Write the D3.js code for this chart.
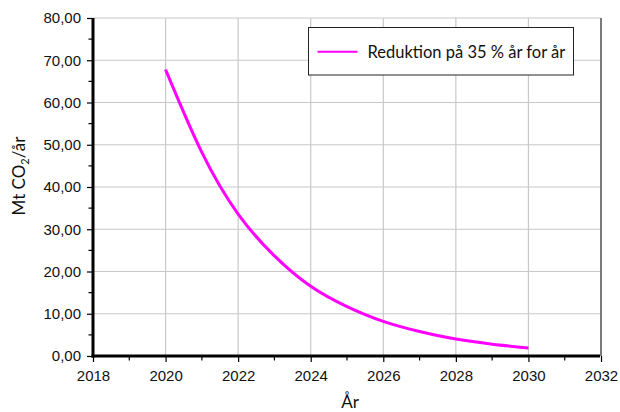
<!DOCTYPE html>
<html>
<head>
<meta charset="utf-8">
<script src="https://cdn.jsdelivr.net/npm/d3@7"></script>
<style>
	body { margin: 0; background: #fff; }
	svg text { fill: #111; }
</style>
</head>
<body>
<div id="chart"></div>
<script>
	var years = [2020, 2021, 2022, 2023, 2024, 2025, 2026, 2027, 2028, 2029, 2030];
	var emissions = [67.8, 48.2, 33.6, 23.7, 16.5, 11.7, 8.2, 5.8, 4.0, 2.8, 1.9];
	var seriesName = "Reduktion på 35 % år for år";
	var xTicks = [2018, 2020, 2022, 2024, 2026, 2028, 2030, 2032];
	var yTicks = [0, 10, 20, 30, 40, 50, 60, 70, 80];

	var W = 620, H = 412;
	var margin = {top: 18, right: 19, left: 93, bottom: 56},
			width = W - margin.left - margin.right,
			height = H - margin.top - margin.bottom;

	var x = d3.scaleLinear().domain([2018, 2032]).range([0, width]);
	var y = d3.scaleLinear().domain([0, 80]).range([height, 0]);

	var svg = d3.select("#chart").append("svg")
			.attr("width", W)
			.attr("height", H)
		.append("g")
			.attr("transform", "translate(" + margin.left + "," + margin.top + ")");

	// grid
	svg.append("g").selectAll("line.gx")
		.data(xTicks.slice(1))
		.enter().append("line")
			.attr("x1", function(d) { return x(d); })
			.attr("x2", function(d) { return x(d); })
			.attr("y1", 0).attr("y2", height)
			.attr("stroke", "#c8c8c8").attr("stroke-width", 1.2);

	svg.append("g").selectAll("line.gy")
		.data(yTicks.slice(1))
		.enter().append("line")
			.attr("x1", 0).attr("x2", width)
			.attr("y1", function(d) { return y(d); })
			.attr("y2", function(d) { return y(d); })
			.attr("stroke", "#c8c8c8").attr("stroke-width", 1.2);

	// right border
	svg.append("line")
		.attr("x1", width).attr("x2", width)
		.attr("y1", 0).attr("y2", height)
		.attr("stroke", "#7a7a7a").attr("stroke-width", 2);

	var tickFont = "'Liberation Sans', Arial, sans-serif";

	// minor ticks
	var minorX = d3.range(2019, 2032, 2);
	svg.append("g").selectAll("line")
		.data(minorX)
		.enter().append("line")
			.attr("x1", function(d) { return x(d); })
			.attr("x2", function(d) { return x(d); })
			.attr("y1", height).attr("y2", height + 4.5)
			.attr("stroke", "#000").attr("stroke-width", 1.2);

	var minorY = d3.range(5, 80, 10);
	svg.append("g").selectAll("line")
		.data(minorY)
		.enter().append("line")
			.attr("x1", -4.5).attr("x2", 0)
			.attr("y1", function(d) { return y(d); })
			.attr("y2", function(d) { return y(d); })
			.attr("stroke", "#000").attr("stroke-width", 1.2);

	var fmt = function(d) { return d3.format(".2f")(d).replace(".", ","); };

	var xAxis = d3.axisBottom(x)
			.tickValues(xTicks)
			.tickFormat(d3.format("d"))
			.tickSize(6)
			.tickPadding(8);

	var yAxis = d3.axisLeft(y)
			.tickValues(yTicks)
			.tickFormat(fmt)
			.tickSize(6)
			.tickPadding(6);

	var gx = svg.append("g")
		.attr("transform", "translate(0," + height + ")")
		.call(xAxis);
	var gy = svg.append("g").call(yAxis);

	[gx, gy].forEach(function(g) {
		g.select(".domain").remove();
		g.selectAll(".tick line").attr("stroke", "#000").attr("stroke-width", 1.2);
		g.selectAll(".tick text")
			.style("font-family", tickFont)
			.style("font-size", "15px")
			.attr("fill", "#111");
	});

	// heavy axis lines
	svg.append("line")
		.attr("x1", 0).attr("x2", 0)
		.attr("y1", 0).attr("y2", height + 1.5)
		.attr("stroke", "#000").attr("stroke-width", 3);
	svg.append("line")
		.attr("x1", -1.5).attr("x2", width - 1)
		.attr("y1", height).attr("y2", height)
		.attr("stroke", "#000").attr("stroke-width", 3);

	// series line
	var data = years.map(function(d, i) { return {year: d, value: emissions[i]}; });
	var line = d3.line()
		.x(function(d) { return x(d.year); })
		.y(function(d) { return y(d.value); })
		.curve(d3.curveNatural);

	svg.append("path")
		.datum(data)
		.attr("fill", "none")
		.attr("stroke", "#ff00ff")
		.attr("stroke-width", 3)
		.attr("d", line);

	// legend
	var labelFont = "Lato, 'Open Sans', sans-serif";
	var legend = svg.append("g")
		.attr("transform", "translate(" + (308.5 - margin.left) + "," + (27.5 - margin.top) + ")");
	legend.append("rect")
		.attr("width", 265).attr("height", 47.5)
		.attr("fill", "#fff")
		.attr("stroke", "#222").attr("stroke-width", 1);
	legend.append("line")
		.attr("x1", 9).attr("x2", 49)
		.attr("y1", 24.2).attr("y2", 24.2)
		.attr("stroke", "#ff00ff").attr("stroke-width", 2);
	legend.append("text")
		.attr("x", 59).attr("y", 30)
		.style("font-family", labelFont)
		.style("font-size", "16.5px")
		.text(seriesName);

	// axis titles
	svg.append("text")
		.attr("text-anchor", "middle")
		.attr("x", 350 - margin.left)
		.attr("y", 408 - margin.top)
		.style("font-family", labelFont)
		.style("font-size", "17px")
		.text("År");

	var yt = svg.append("text")
		.attr("text-anchor", "middle")
		.attr("transform", "translate(" + (25 - margin.left) + "," + (176 - margin.top) + ") rotate(-90)")
		.style("font-family", labelFont)
		.style("font-size", "17px");
	yt.append("tspan").text("Mt CO");
	yt.append("tspan").attr("baseline-shift", "-4").style("font-size", "11px").text("2");
	yt.append("tspan").attr("dy", "0").text("/år");
</script>
</body>
</html>
